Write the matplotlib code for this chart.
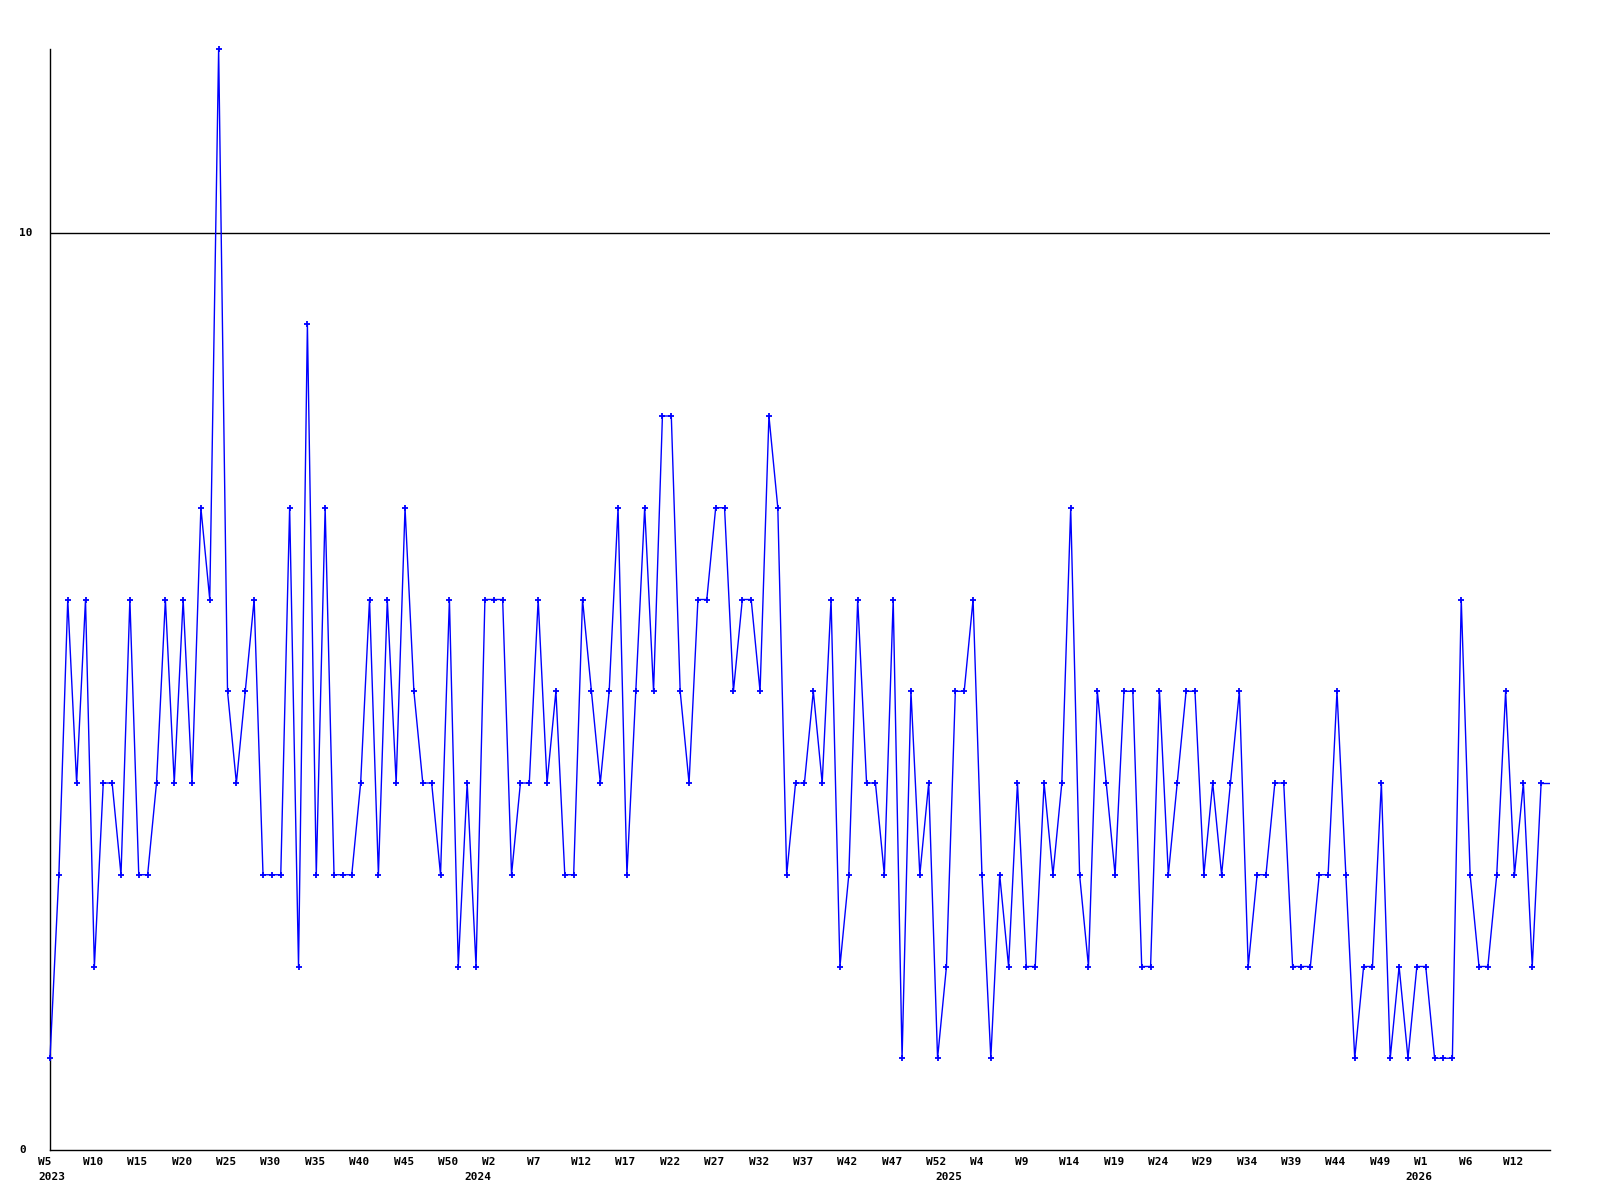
import numpy as np
import matplotlib
matplotlib.use("Agg")
import matplotlib.pyplot as plt
from matplotlib import transforms

# Weekly values (W5 2023 .. 2026)
vals_2023 = [1, 3, 6, 4, 6, 2, 4, 4, 3, 6, 3, 3, 4, 6, 4, 6, 4, 7, 6, 12, 5, 4,
             5, 6, 3, 3, 3, 7, 2, 9, 3, 7, 3, 3, 3, 4, 6, 3, 6, 4, 7, 5, 4,
             4, 3, 6, 2, 4]
vals_2024 = [2, 6, 6, 6, 3, 4, 4, 6, 4, 5, 3, 3, 6, 5, 4, 5, 7,
             3, 5, 7, 5, 8, 8, 5, 4, 6, 6, 7, 7, 5, 6, 6, 5, 8, 7, 3, 4, 4,
             5, 4, 6, 2, 3, 6, 4, 4, 3, 6, 1, 5, 3, 4]
vals_2025 = [1, 2, 5, 5, 6, 3,
             1, 3, 2, 4, 2, 2, 4, 3, 4, 7, 3, 2, 5, 4, 3, 5, 5, 2, 2, 5, 3, 4, 5,
             5, 3, 4, 3, 4, 5, 2, 3, 3, 4, 4, 2, 2, 2, 3, 3, 5, 3, 1, 2, 2, 4, 1]
vals_2026 = [2, 1, 2, 2, 1, 1, 1, 6, 3, 2, 2, 3, 5, 3, 4, 2, 4]

week_labels = ["W5", "W10", "W15", "W20", "W25", "W30", "W35", "W40", "W45", "W50",
               "W2", "W7", "W12", "W17", "W22", "W27", "W32", "W37", "W42", "W47", "W52",
               "W4", "W9", "W14", "W19", "W24", "W29", "W34", "W39", "W44", "W49",
               "W1", "W6", "W12"]
year_labels = ["2023", "2024", "2025", "2026"]
year_label_index = [0, 48, 101, 154]
y_tick_values = [0, 10]

values = np.array(vals_2023 + vals_2024 + vals_2025 + vals_2026, dtype=float)
x = np.arange(len(values))
week_tick_index = np.arange(len(week_labels)) * 5

fig = plt.figure(figsize=(16, 12), dpi=100)
ax = fig.add_axes([50 / 1600, 1 - 1150 / 1200, 1500 / 1600, (1150 - 49) / 1200])
xmax = len(values)
ax.set_xlim(0, xmax)
ax.set_ylim(0, 12)

ax.axhline(10, color="black", lw=1.0, zorder=1)
ax.plot(x, values, color="#0000ff", lw=1.0, marker="+", markersize=4,
        markeredgewidth=1.3, zorder=3, clip_on=False)
ax.plot([x[-1], xmax], [values[-1], values[-1]], color="#0000ff", lw=1.0, zorder=3)

for s in ["top", "right"]:
    ax.spines[s].set_visible(False)
for s in ["left", "bottom"]:
    ax.spines[s].set_color("black")
    ax.spines[s].set_linewidth(1.0)
ax.set_xticks([])
ax.set_yticks([])

font = dict(family="DejaVu Sans Mono", fontweight="bold", fontsize=8, color="black")

# x labels (left aligned slightly before each tick)
trans_w = transforms.offset_copy(ax.transData, fig=fig, x=-11.5, y=-12, units="dots")
for xi, lab in zip(week_tick_index, week_labels):
    ax.text(xi, 0, lab, transform=trans_w, ha="left", va="center", clip_on=False, **font)
trans_y = transforms.offset_copy(ax.transData, fig=fig, x=-11.5, y=-27, units="dots")
for xi, lab in zip(year_label_index, year_labels):
    ax.text(xi, 0, lab, transform=trans_y, ha="left", va="center", clip_on=False, **font)

# y labels
ytrans = transforms.blended_transform_factory(fig.transFigure, ax.transData)
for yv in y_tick_values:
    ax.text(19 / 1600, yv, str(yv), transform=ytrans, ha="left", va="center", **font)

fig.savefig("out.png", dpi=100, facecolor="white")
